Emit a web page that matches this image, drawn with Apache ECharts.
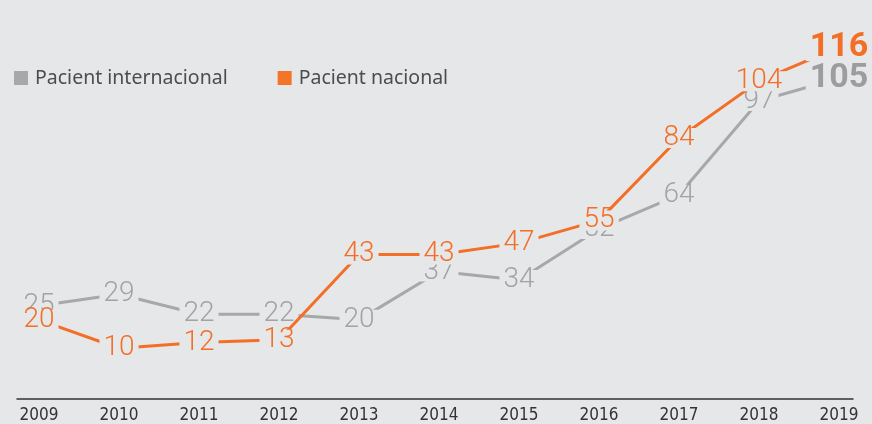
<!DOCTYPE html>
<html>
<head>
<meta charset="utf-8">
<script src="https://cdn.jsdelivr.net/npm/echarts@6/dist/echarts.min.js"></script>
<style>
html,body{margin:0;padding:0;background:#e6e7e9;}
#chart{width:872px;height:424px;}
</style>
</head>
<body>
<div id="chart"></div>
<script>
var years = ['2009','2010','2011','2012','2013','2014','2015','2016','2017','2018','2019'];
var seriesNames = ['Pacient internacional', 'Pacient nacional'];
var internacional = [25, 29, 22, 22, 20, 37, 34, 52, 64, 97, 105];
var nacional = [20, 10, 12, 13, 43, 43, 47, 55, 84, 104, 116];

var BG = '#e6e7e9';
var GRAY = '#a8a8aa';
var ORANGE = '#f36f27';

function makeData(values, color) {
  return values.map(function (v, i) {
    var last = i === values.length - 1;
    return {
      value: v,
      label: last ? { fontWeight: 'bold', fontSize: 34, lineHeight: 28, fontFamily: 'Roboto', color: color === ORANGE ? ORANGE : '#9d9d9f' } : {}
    };
  });
}

function lineSeries(name, values, color, labelColor, z) {
  return {
    name: name,
    type: 'line',
    xAxisIndex: 0,
    yAxisIndex: 0,
    data: makeData(values, color),
    z: z,
    symbol: 'circle',
    symbolSize: 1,
    itemStyle: { color: color },
    lineStyle: { color: color, width: 3 },
    label: {
      show: true,
      position: 'inside',
      fontFamily: 'Roboto',
      fontWeight: 300,
      fontSize: 28,
      lineHeight: 20,
      color: labelColor,
      backgroundColor: BG,
      padding: [0, 4, 0, 4]
    },
    emphasis: { disabled: true },
    animation: false
  };
}

var chart = echarts.init(document.getElementById('chart'));
chart.setOption({
  backgroundColor: BG,
  animation: false,
  legend: {
    left: 14,
    top: 68,
    padding: 0,
    icon: 'rect',
    itemWidth: 14,
    itemHeight: 14,
    itemGap: 50,
    textStyle: { fontFamily: 'Noto Sans', fontSize: 19.5, color: '#4d4d4f', padding: [0, 0, 0, 2] },
    data: [
      { name: seriesNames[0], itemStyle: { color: '#a8a8a8' } },
      { name: seriesNames[1], itemStyle: { color: '#f4742a' } }
    ]
  },
  grid: [
    { left: 39, right: 33, top: 30, bottom: 25 },
    { left: 17, right: 19, top: 30, bottom: 25 }
  ],
  xAxis: [
    {
      type: 'category',
      gridIndex: 0,
      data: years,
      boundaryGap: false,
      axisLine: { show: false },
      axisTick: { show: false },
      axisLabel: { fontFamily: '"DejaVu Sans Condensed", Roboto', fontSize: 17, color: '#333333', margin: 9 }
    },
    {
      type: 'value',
      gridIndex: 1,
      min: 0,
      max: 1,
      axisLine: { show: true, onZero: false, lineStyle: { color: '#333333', width: 1.5 } },
      axisTick: { show: false },
      axisLabel: { show: false },
      splitLine: { show: false }
    }
  ],
  yAxis: [
    { type: 'value', gridIndex: 0, min: -7.5, max: 122, show: false, splitLine: { show: false } },
    { type: 'value', gridIndex: 1, min: 0, max: 1, show: false, splitLine: { show: false } }
  ],
  series: [
    lineSeries(seriesNames[0], internacional, GRAY, '#a3a3a5', 2),
    lineSeries(seriesNames[1], nacional, ORANGE, '#f36f27', 3)
  ]
});
</script>
</body>
</html>
